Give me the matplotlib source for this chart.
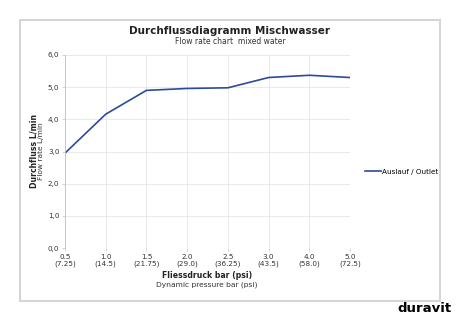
import matplotlib.pyplot as plt
from matplotlib.patches import Rectangle

pressure_bar = ['0.5', '1.0', '1.5', '2.0', '2.5', '3.0', '4.0', '5.0']
pressure_psi = ['7.25', '14.5', '21.75', '29.0', '36.25', '43.5', '58.0', '72.5']
flow_outlet = [2.95, 4.16, 4.9, 4.96, 4.98, 5.3, 5.37, 5.3]
y_ticks = [0, 1, 2, 3, 4, 5, 6]

fig = plt.figure(figsize=(4.6, 3.25), dpi=100)

# outer chart frame
fig.patches.append(Rectangle((20 / 460, 1 - 301 / 325), 420 / 460, 281 / 325,
                             transform=fig.transFigure, fill=False,
                             edgecolor='#d6d6d6', linewidth=1.5))

ax = fig.add_axes([65 / 460, 1 - 248 / 325, 285 / 460, 193 / 325])
x = list(range(len(pressure_bar)))
ax.plot(x, flow_outlet, color='#2e4a9a', linewidth=1.2, label='Auslauf / Outlet')

ax.set_xlim(0, len(x) - 1)
ax.set_ylim(0, 6)
ax.set_xticks(x)
ax.set_xticklabels(['{}\n({})'.format(b, p) for b, p in zip(pressure_bar, pressure_psi)],
                   fontsize=5.2, color='#333333', linespacing=1.1)
ax.set_yticks(y_ticks)
ax.set_yticklabels(['{:.1f}'.format(v).replace('.', ',') for v in y_ticks],
                   fontsize=5.2, color='#333333')
ax.grid(True, color='#e6e6e6', linewidth=0.6)
ax.set_axisbelow(True)
for side in ['top', 'right', 'bottom']:
    ax.spines[side].set_visible(False)
ax.spines['left'].set_color('#bfbfbf')
ax.spines['left'].set_linewidth(0.6)
ax.tick_params(length=2, width=0.5, color='#bfbfbf', pad=2)

# titles
fig.text(230 / 460, 1 - 31 / 325, 'Durchflussdiagramm Mischwasser', ha='center', va='center',
         fontsize=7.5, fontweight='bold', color='#222222')
fig.text(230 / 460, 1 - 42 / 325, 'Flow rate chart  mixed water', ha='center', va='center',
         fontsize=5.5, color='#333333')

# axis labels
fig.text(207 / 460, 1 - 276 / 325, 'Fliessdruck bar (psi)', ha='center', va='center',
         fontsize=5.6, fontweight='bold', color='#222222')
fig.text(207 / 460, 1 - 285 / 325, 'Dynamic pressure bar (psi)', ha='center', va='center',
         fontsize=5.4, color='#333333')
fig.text(34 / 460, 1 - 151 / 325, 'Durchfluss L/min', ha='center', va='center', rotation=90,
         fontsize=5.6, fontweight='bold', color='#222222')
fig.text(41 / 460, 1 - 151 / 325, 'Flow rate L/min', ha='center', va='center', rotation=90,
         fontsize=5.4, color='#333333')

ax.legend(loc='center left', bbox_to_anchor=(1.03, 0.394), frameon=False, fontsize=5.2,
          handlelength=2.2, handletextpad=0.2)

fig.text(452 / 460, 1 - 309 / 325, 'duravit', ha='right', va='center',
         fontsize=9.5, fontweight='bold', color='black')

fig.savefig('out.png', dpi=100)
